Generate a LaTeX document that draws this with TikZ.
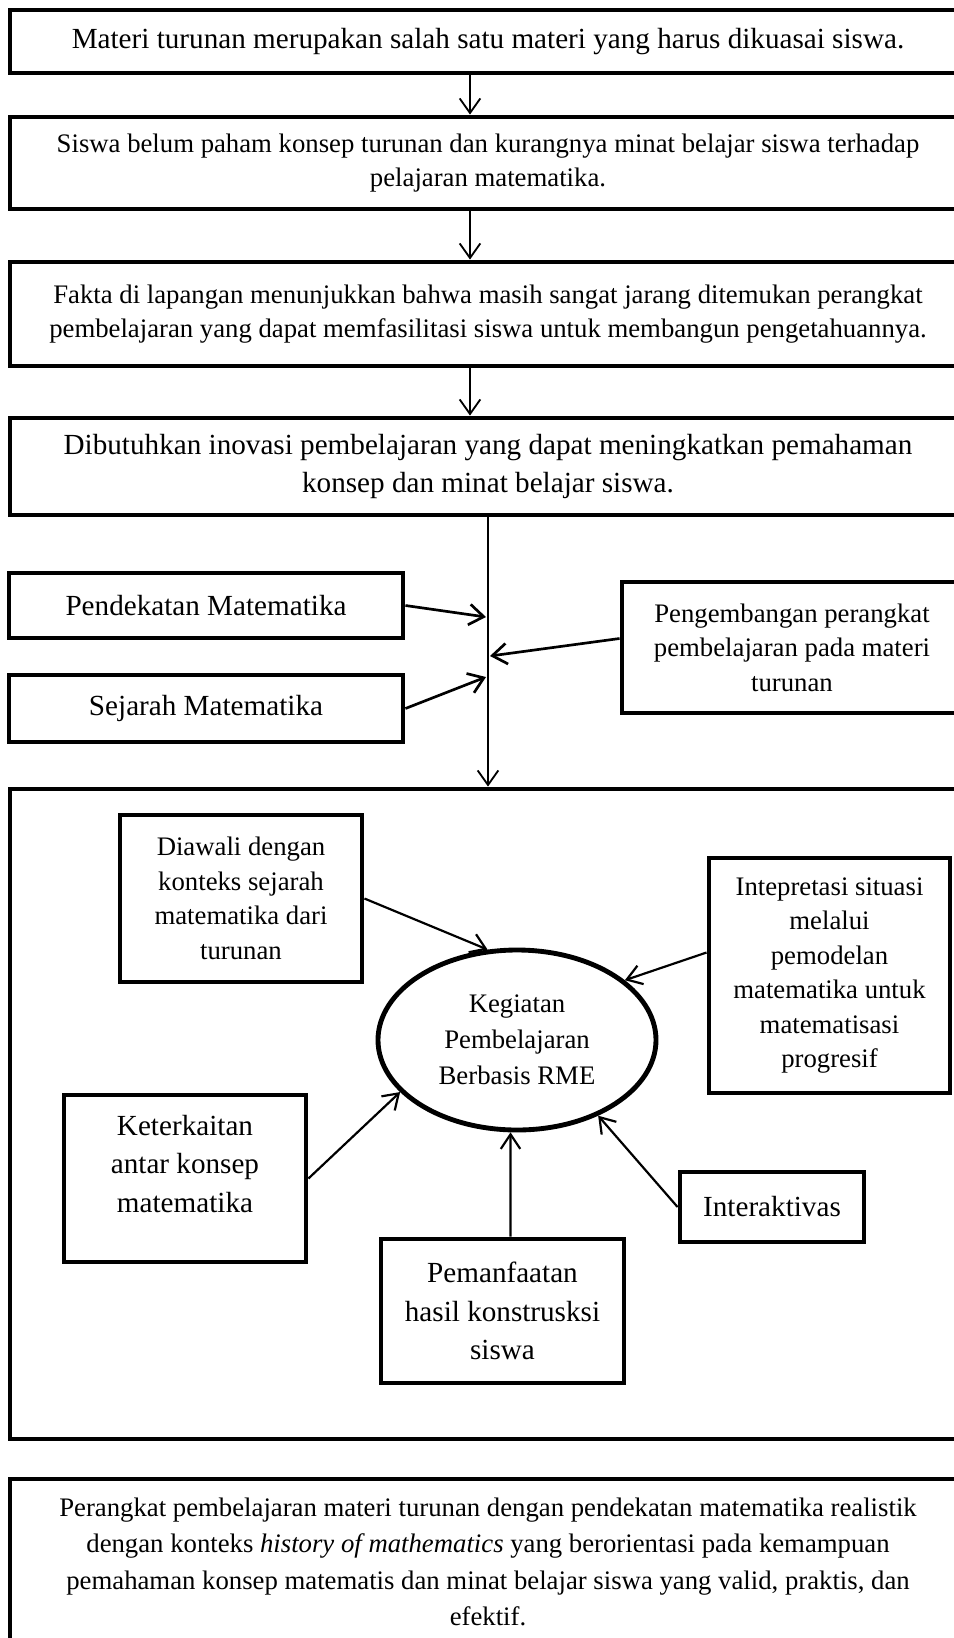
\documentclass[tikz,border=0pt]{standalone}
\usepackage{fontspec}
\setmainfont{Liberation Serif}
\usetikzlibrary{arrows.meta,shapes.geometric,calc}
\def\u{0.4115pt}
\begin{document}
\begin{tikzpicture}[x=0.4115pt,y=-0.4115pt,
  box/.style={draw, line width=2pt, rectangle, align=center, inner sep=0pt},
  oval/.style={draw, line width=2pt, ellipse, align=center, inner sep=0pt},
  tA/.style={font=\fontsize{12}{15.5}\selectfont},
  tB/.style={font=\fontsize{11}{14.2}\selectfont},
  arr/.style={-{Straight Barb[length=6pt,width=8.5pt]}, line width=0.75pt},
  arrb/.style={-{Straight Barb[length=6pt,width=8.5pt]}, line width=1.1pt},
  arrc/.style={-{Straight Barb[length=6pt,width=8pt]}, line width=0.9pt}]
\clip (0,0) rectangle (954,1638);
\fill[white] (0,0) rectangle (954,1638);
% top chain
\node[box,tA,minimum width={956*\u},minimum height={63*\u}] (b1) at (488,41.5)
  {Materi turunan merupakan salah satu materi yang harus dikuasai siswa.};
\node[box,tB,minimum width={956*\u},minimum height={92*\u}] (b2) at (488,163)
  {Siswa belum paham konsep turunan dan kurangnya minat belajar siswa terhadap\\pelajaran matematika.};
\node[box,tB,minimum width={956*\u},minimum height={104*\u}] (b3) at (488,314)
  {Fakta di lapangan menunjukkan bahwa masih sangat jarang ditemukan perangkat\\pembelajaran yang dapat memfasilitasi siswa untuk membangun pengetahuannya.};
\node[box,tA,minimum width={956*\u},minimum height={97*\u}] (b4) at (488,466.5)
  {Dibutuhkan inovasi pembelajaran yang dapat meningkatkan pemahaman\\konsep dan minat belajar siswa.};
% side inputs
\node[box,tA,minimum width={394*\u},minimum height={65*\u}] (pm) at (206,605.5) {Pendekatan Matematika};
\node[box,tA,minimum width={394*\u},minimum height={67*\u}] (sm) at (206,708.5) {Sejarah Matematika};
\node[box,tB,minimum width={340*\u},minimum height={131*\u}] (pg) at (792,647.5)
  {Pengembangan perangkat\\pembelajaran pada materi\\turunan};
% big container
\node[box,minimum width={956*\u},minimum height={650*\u}] (big) at (488,1114) {};
\node[box,tB,minimum width={242*\u},minimum height={167*\u}] (di) at (241,898.5)
  {Diawali dengan\\konteks sejarah\\matematika dari\\turunan};
\node[box,tB,minimum width={241*\u},minimum height={235*\u}] (ip) at (829.5,975.5)
  {Intepretasi situasi\\melalui\\pemodelan\\matematika untuk\\matematisasi\\progresif};
\node[oval,font=\fontsize{11}{14.8}\selectfont,minimum width={278*\u},minimum height={180*\u}] (el) at (517,1040)
  {Kegiatan\\Pembelajaran\\Berbasis RME};
\node[box,font=\fontsize{12}{15.8}\selectfont,minimum width={242*\u},minimum height={167*\u}] (ke) at (185,1178.5)
  {Keterkaitan\\antar konsep\\matematika\\[-3.5pt]\mbox{}};
\node[box,tA,minimum width={184*\u},minimum height={70*\u}] (ia) at (772,1207) {Interaktivas};
\node[box,font=\fontsize{12}{15.8}\selectfont,minimum width={243*\u},minimum height={144*\u}] (pe) at (502.5,1311)
  {Pemanfaatan\\hasil konstrusksi\\siswa};
% final box
\node[box,font=\fontsize{11}{15}\selectfont,minimum width={956*\u},minimum height={166*\u}] (fin) at (488,1562)
  {Perangkat pembelajaran materi turunan dengan pendekatan matematika realistik\\
   dengan konteks \textit{history of mathematics} yang berorientasi pada kemampuan\\
   pemahaman konsep matematis dan minat belajar siswa yang valid, praktis, dan\\
   efektif.};
% connectors
\coordinate (x1) at (470,0);
\draw[arr] (b1.south -| x1) -- (b2.north -| x1);
\draw[arr] (b2.south -| x1) -- (b3.north -| x1);
\draw[arr] (b3.south -| x1) -- (b4.north -| x1);
\draw[arr] (b4.south) -- (big.north);
\coordinate (j1) at (486,617);
\coordinate (j2) at (486,677);
\coordinate (j3) at (490,656);
\draw[arrb] (pm.east) -- (j1);
\draw[arrb] (sm.east) -- (j2);
\draw[arrb] ($(pg.west)+(0,-9)$) -- (j3);
\draw[arrc] (di.east) -- (el.108);
\draw[arrc] ($(ip.west)+(0,-23)$) -- (el.29);
\draw[arrc] (ke.east) -- (el.204);
\draw[arrc] ($(pe.north)+(8,0)$) -- (el.266);
\draw[arrc] (ia.west) -- (el.317);
\end{tikzpicture}
\end{document}
